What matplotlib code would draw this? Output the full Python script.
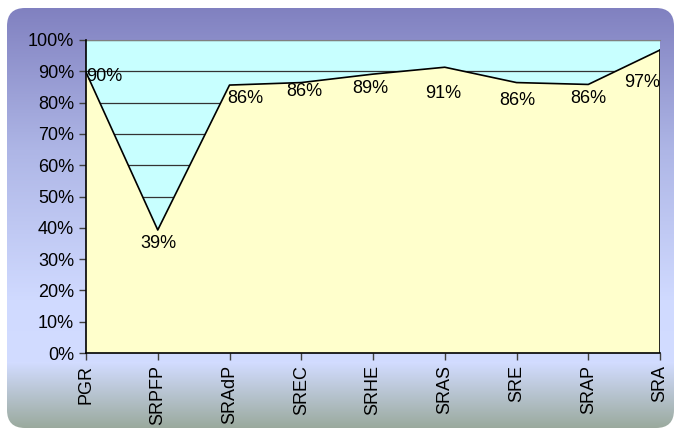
import numpy as np
import matplotlib
matplotlib.use("Agg")
import matplotlib.pyplot as plt
from matplotlib.patches import FancyBboxPatch
from matplotlib.colors import to_rgb

plt.rcParams["font.family"] = ["Liberation Sans", "DejaVu Sans"]

# data
categories = ["PGR", "SRPFP", "SRAdP", "SREC", "SRHE", "SRAS", "SRE", "SRAP", "SRA"]
values = [89.7, 39.3, 85.6, 86.4, 89.1, 91.3, 86.4, 85.8, 96.8]
yticks = [0, 10, 20, 30, 40, 50, 60, 70, 80, 90, 100]
# label nudges in pixels (dx, dy) relative to each point
label_offsets = [(18, -4), (1, -14), (16, -13), (3, -9), (-3, -14),
                 (-2, -26), (1, -18), (0, -14), (-18, -32)]

W, H = 675, 432
fig = plt.figure(figsize=(W / 100, H / 100), dpi=100)
fig.patch.set_facecolor("white")

# background panel with vertical gradient and rounded corners
bg = fig.add_axes([0, 0, 1, 1], zorder=-1)
bg.set_xlim(0, W)
bg.set_ylim(H, 0)
bg.axis("off")
stops = [(0, "#7e7ebe"), (150, "#aeb6e6"), (300, "#d0daff"),
         (362, "#d2dcff"), (432, "#96a696")]
ys = np.arange(H)
grad = np.zeros((H, 1, 3))
for c in range(3):
    grad[:, 0, c] = np.interp(ys, [s[0] for s in stops], [to_rgb(s[1])[c] for s in stops])
im = bg.imshow(grad, extent=[0, W, H, 0], aspect="auto")
panel = FancyBboxPatch((7, 8), 667, 420, boxstyle="round,pad=0,rounding_size=18",
                       transform=bg.transData, facecolor="none", edgecolor="none")
bg.add_patch(panel)
im.set_clip_path(panel)

ax = fig.add_axes([86 / W, 1 - 353 / H, (660 - 86) / W, (353 - 40) / H])
ax.set_facecolor("#c8ffff")
x = np.arange(len(categories))
ax.fill_between(x, values, 0, facecolor="#ffffcc", edgecolor="none", zorder=2)
ax.plot(x, values, color="black", lw=1.2, zorder=3)
ax.plot([x[-1], x[-1]], [0, values[-1]], color="black", lw=1.2, zorder=3)

ax.set_xlim(0, len(categories) - 1)
ax.set_ylim(0, 100)
ax.set_yticks(yticks)
ax.set_yticklabels([f"{t}%" for t in yticks], fontsize=13)
ax.set_xticks(x)
ax.set_xticklabels(categories, rotation=90, fontsize=13)
ax.tick_params(axis="both", direction="out", length=5, width=1, color="#404040")
ax.yaxis.grid(True, color="#333333", lw=0.9, zorder=1)
ax.set_axisbelow(True)
for s in ["left", "bottom"]:
    ax.spines[s].set_color("black")
    ax.spines[s].set_linewidth(1.2)
    ax.spines[s].set_zorder(4)
ax.spines["top"].set_color("#808080")
ax.spines["right"].set_visible(False)

for xi, v, (dx, dy) in zip(x, values, label_offsets):
    ax.annotate(f"{v:.0f}%", (xi, v), xytext=(dx, dy), textcoords="offset pixels",
                ha="center", va="center", fontsize=13, zorder=5)

fig.savefig("out.png", dpi=100)
